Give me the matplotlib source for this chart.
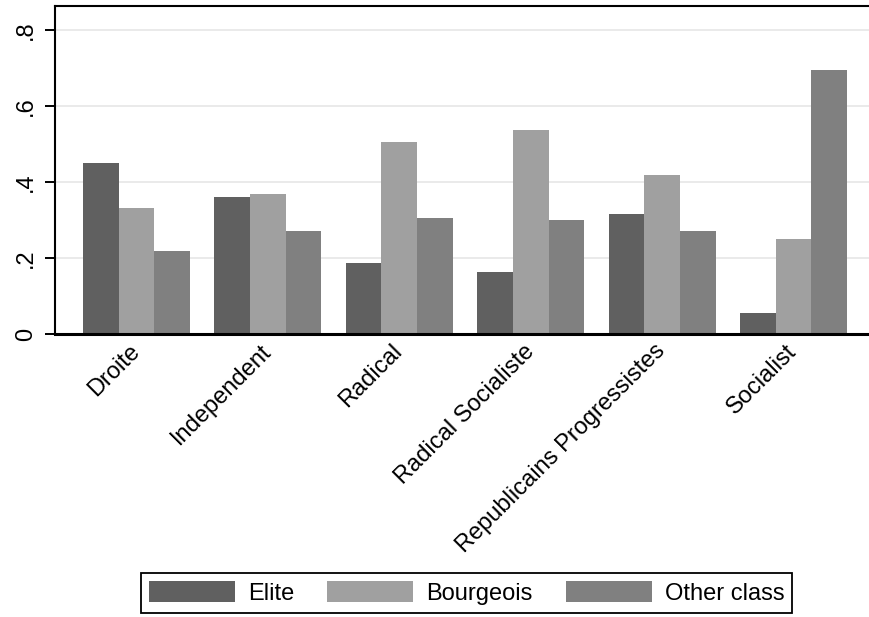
import numpy as np
import matplotlib
matplotlib.use("Agg")
import matplotlib.pyplot as plt

# data
parties = ["Droite", "Independent", "Radical", "Radical Socialiste",
           "Republicains Progressistes", "Socialist"]
elite = [0.449, 0.361, 0.188, 0.162, 0.316, 0.054]
bourgeois = [0.331, 0.368, 0.506, 0.537, 0.418, 0.249]
other_class = [0.218, 0.270, 0.305, 0.300, 0.270, 0.695]
series_names = ["Elite", "Bourgeois", "Other class"]
y_ticks = [0, 0.2, 0.4, 0.6, 0.8]
y_tick_labels = ["0", ".2", ".4", ".6", ".8"]

colors = ["#606060", "#a0a0a0", "#808080"]

plt.rcParams['font.family'] = ['Liberation Sans', 'DejaVu Sans']
FS = 17


def plot_chart():
    fig = plt.figure(figsize=(8.7, 6.17), dpi=100)
    ax = fig.add_axes([55 / 870, 1 - 334 / 617, 1 - 55 / 870, 328 / 617])

    x = np.arange(len(parties))
    w = 0.2716
    series = [elite, bourgeois, other_class]
    for i, vals in enumerate(series):
        ax.bar(x + (i - 1) * w, vals, width=w, color=colors[i],
               linewidth=0, label=series_names[i], zorder=2)

    ax.set_xlim(-0.620, 5.582)
    ax.set_ylim(0, 0.863)

    # light horizontal grid, no line at zero
    for t in y_ticks[1:]:
        ax.axhline(t, color="#e4e4e4", lw=1.1, zorder=1)

    ax.set_yticks(y_ticks)
    ax.set_yticklabels(y_tick_labels, rotation=90, va="center", fontsize=FS)
    ax.tick_params(axis="y", length=7.2, width=1.4, pad=6)

    ax.set_xticks(x)
    ax.set_xticklabels(parties, rotation=45, ha="right", va="center",
                       rotation_mode="anchor", fontsize=FS)
    ax.tick_params(axis="x", length=0, pad=10)

    for s in ["left", "top", "bottom"]:
        ax.spines[s].set_linewidth(1.5)
        ax.spines[s].set_color("black")
    ax.spines["right"].set_visible(False)
    ax.spines["bottom"].set_linewidth(2.2)
    ax.spines["bottom"].set_zorder(3)

    handles, labels = ax.get_legend_handles_labels()
    leg = fig.legend(handles, labels, loc="center", ncol=3,
                     bbox_to_anchor=(466.5 / 870, 1 - 593 / 617),
                     fontsize=FS, frameon=True, fancybox=False,
                     edgecolor="black", framealpha=1,
                     handlelength=3.65, handleheight=1.0,
                     handletextpad=0.55, columnspacing=1.4,
                     borderpad=0.33, borderaxespad=0)
    leg.get_frame().set_linewidth(1.3)

    fig.savefig("out.png", dpi=100)
    return


if __name__ == "__main__":
    plot_chart()
